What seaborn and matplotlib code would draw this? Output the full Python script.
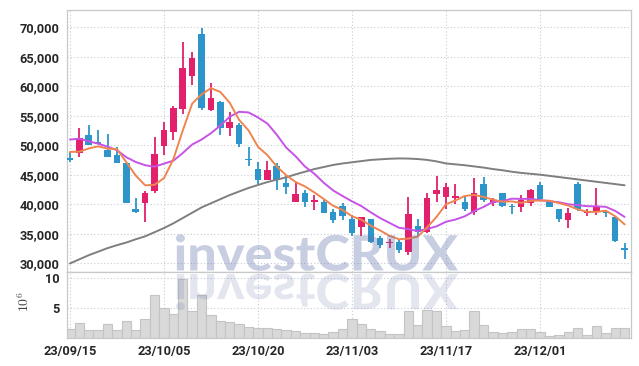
import os
import numpy as np
import pandas as pd
import seaborn as sns
import matplotlib as mpl
import matplotlib.pyplot as plt
from matplotlib import font_manager
from matplotlib.textpath import TextPath
from matplotlib.patches import PathPatch
from matplotlib.font_manager import FontProperties
from matplotlib.transforms import Affine2D
from matplotlib.ticker import FuncFormatter

# 每 10 个交易日一个日期刻度
tick_pos = [0, 10, 20, 30, 40, 50]
tick_labels = ['23/09/15', '23/10/05', '23/10/20', '23/11/03', '23/11/17', '23/12/01']

opens = [47900, 48700, 51800, 50600, 49300, 48300, 47000, 39200, 40300, 42200,
         49900, 52300, 56100, 61700, 68900, 56000, 57400, 53000, 53400, 47700,
         46000, 44200, 46600, 43600, 40500, 41900, 40500, 40500, 38700, 39700,
         37500, 36100, 37500, 34300, 33400, 33700, 32000, 36400, 35400, 41700,
         41300, 41100, 40500, 38700, 43500, 40200, 41900, 39800, 39600, 40200,
         43300, 40500, 39200, 37400, 43500, 38500, 38700, 38950, 37900, 32700]
highs = [48900, 53000, 53500, 52700, 52000, 49700, 47100, 41100, 42200, 51500,
         53900, 56700, 67600, 65900, 69900, 60600, 57500, 55600, 53800, 49700,
         47200, 47300, 47000, 44900, 43800, 42400, 41600, 40700, 39200, 40300,
         38200, 37900, 37600, 34700, 34100, 34000, 41300, 37500, 41900, 44900,
         43600, 43500, 41500, 44500, 44600, 41100, 41950, 40000, 41600, 42600,
         43800, 40700, 39300, 39400, 43800, 39200, 42800, 39100, 38000, 33400]
lows = [47200, 48000, 50000, 50200, 48000, 47000, 40200, 38600, 37100, 41900,
        48300, 50900, 55400, 60300, 56000, 55800, 51700, 51600, 49800, 46600,
        43500, 44100, 42500, 41700, 40400, 39500, 39100, 38500, 36800, 37400,
        34600, 34700, 33500, 32600, 32700, 31800, 31400, 34700, 35200, 40500,
        39200, 40100, 38900, 38200, 40500, 39800, 39600, 38400, 38700, 39700,
        40800, 39500, 37000, 36000, 38900, 38100, 38200, 37800, 33700, 30800]
closes = [47500, 51300, 50100, 50300, 48100, 47100, 40200, 38800, 42000, 48600,
          52700, 56300, 63100, 64800, 56400, 58000, 53000, 53900, 50300, 47500,
          44200, 45900, 44200, 43000, 41700, 40500, 40800, 38600, 37300, 38100,
          35200, 37800, 33600, 33200, 33600, 32300, 38400, 35300, 41100, 42400,
          43000, 41500, 39200, 42000, 40700, 40700, 39700, 39500, 40700, 42500,
          40900, 39600, 37500, 38600, 39200, 38850, 39500, 38600, 33850, 32300]
# 成交量 (10^6)
volume = [1.42, 2.53, 1.36, 1.36, 2.36, 1.36, 2.86, 1.36, 3.19, 7.19,
          5.03, 4.03, 9.86, 4.53, 7.19, 3.86, 2.86, 2.69, 2.36, 1.86,
          1.69, 1.69, 1.53, 1.36, 1.19, 0.86, 0.86, 0.69, 0.92, 1.53,
          3.19, 2.36, 1.53, 1.08, 0.69, 0.69, 4.42, 2.08, 4.58, 4.42,
          1.92, 1.08, 1.25, 4.42, 2.08, 0.92, 0.75, 0.92, 1.42, 1.42,
          0.92, 0.36, 0.58, 0.92, 1.58, 0.58, 2.03, 0.75, 1.69, 1.58]
# 均线开头部分 (窗口不满时, 从图上读出)
ma5_head = [48900, 48950, 49500, 49850]
ma10_head = [51000, 51150, 50700, 50300, 49800, 49200, 48000, 47200, 46650]
ma60 = [30000, 30700, 31400, 32000, 32600, 33100, 33550, 34100, 34600, 35300,
        36000, 36800, 37700, 38600, 39500, 40200, 40900, 41600, 42200, 42800,
        43300, 43800, 44200, 44600, 45100, 45550, 46000, 46350, 46700, 46950,
        47150, 47350, 47550, 47650, 47750, 47800, 47780, 47700, 47550, 47300,
        46950, 46800, 46650, 46450, 46250, 46000, 45800, 45550, 45350, 45200,
        45050, 44850, 44650, 44450, 44250, 44050, 43850, 43650, 43450, 43250]

UP = '#E2206C'
DOWN = '#2D95C9'
GRID = '#C8CBD9'

sns.set_theme(style='white')
plt.rcParams['font.family'] = ['Roboto', 'DejaVu Sans']
plt.rcParams['mathtext.fontset'] = 'cm'

df = pd.DataFrame({'open': opens, 'high': highs, 'low': lows, 'close': closes, 'vol': volume})
df['i'] = np.arange(len(df))
df['ma5'] = df['close'].rolling(5).mean()
df.loc[:len(ma5_head) - 1, 'ma5'] = ma5_head
df['ma10'] = df['close'].rolling(10).mean()
df.loc[:len(ma10_head) - 1, 'ma10'] = ma10_head
df['ma60'] = ma60

W, H = 639, 366
fig = plt.figure(figsize=(W / 100, H / 100), dpi=100)


def box(l, t, r, b):
    return [l / W, 1 - b / H, (r - l) / W, (b - t) / H]


ax = fig.add_axes(box(66.5, 9.5, 631, 272))
axv = fig.add_axes(box(66.5, 272, 631, 338))

# 蜡烛
up = df['close'] >= df['open']
col = np.where(up, UP, DOWN)
body_lo = np.minimum(df['open'], df['close'])
body_h = np.maximum(np.abs(df['close'] - df['open']), 130)
ax.vlines(df['i'], df['low'], df['high'], colors=col, linewidth=1.3, zorder=3)
ax.bar(df['i'], body_h, bottom=body_lo, width=0.7, color=col, linewidth=0, zorder=3)

# 均线
sns.lineplot(data=df, x='i', y='ma60', ax=ax, color='#7F7F7F', linewidth=1.4, zorder=4)
sns.lineplot(data=df, x='i', y='ma10', ax=ax, color='#C752E6', linewidth=1.4, zorder=4)
sns.lineplot(data=df, x='i', y='ma5', ax=ax, color='#EE8550', linewidth=1.4, zorder=4)

# 成交量
sns.barplot(data=df, x='i', y='vol', ax=axv, color='#D9D9D9', edgecolor='#C4C4C4',
            linewidth=0.8, width=1.0, saturation=1, native_scale=True)

xlim = (-0.37, 59.68)
ax.set_xlim(xlim)
axv.set_xlim(xlim)
ax.set_ylim(28550, 73050)
axv.set_ylim(0, 10.95)

ax.set_yticks(range(30000, 70001, 5000))
ax.yaxis.set_major_formatter(FuncFormatter(lambda v, p: f'{v:,.0f}'))
ax.set_xticks(tick_pos)
ax.set_xticklabels([])
axv.set_yticks([5, 10])
axv.set_xticks(tick_pos)
axv.set_xticklabels(tick_labels)

for a in (ax, axv):
    a.set_xlabel('')
    a.set_ylabel('')
    a.set_axisbelow(True)
    a.grid(True, color=GRID, linestyle=(0, (1, 2)), linewidth=0.8)
    a.tick_params(length=0, pad=5, labelsize=9.2, labelcolor='#262626')
    for lbl in a.get_xticklabels() + a.get_yticklabels():
        lbl.set_fontweight('bold')
    for s in a.spines.values():
        s.set_color('#C8C8C8')
        s.set_linewidth(0.9)
ax.spines['bottom'].set_color('#B5B5B5')

axv.set_ylabel(r'$10^{6}$', fontsize=10, color='#444444')
axv.yaxis.set_label_coords(-0.062, 0.55)

# 水印 + 倒影: 找一个最粗的字体文件
wm_file = os.path.join(mpl.get_data_path(), 'fonts', 'ttf', 'DejaVuSans-Bold.ttf')
for fam in ['Lato', 'Inter', 'Roboto', 'Open Sans']:
    try:
        f = font_manager.findfont(FontProperties(family=fam, weight='black'),
                                  fallback_to_default=False)
    except ValueError:
        continue
    if any(k in os.path.basename(f) for k in ('Black', 'Heavy', 'ExtraBold')):
        wm_file = f
        break

tp = TextPath((0, 0), 'investCRUX', size=48, prop=FontProperties(fname=wm_file))
ext = tp.get_extents()
sx = (458 - 176) / ext.width
sy = 35 / ext.height * (ext.height / (0.72 * 48))
px = Affine2D().scale(1 / 100) + fig.dpi_scale_trans
fig.add_artist(PathPatch(tp, transform=Affine2D().translate(-ext.x0, 0).scale(sx, sy)
                         .translate(176, H - 270.5) + px,
                         fc='#6473AA', ec='none', alpha=0.35, zorder=10))
fig.add_artist(PathPatch(tp, transform=Affine2D().translate(-ext.x0, 0).scale(sx, -sy)
                         .translate(176, H - 274) + px,
                         fc='#6473AA', ec='none', alpha=0.18, zorder=10))

fig.savefig('out.png', dpi=100)
